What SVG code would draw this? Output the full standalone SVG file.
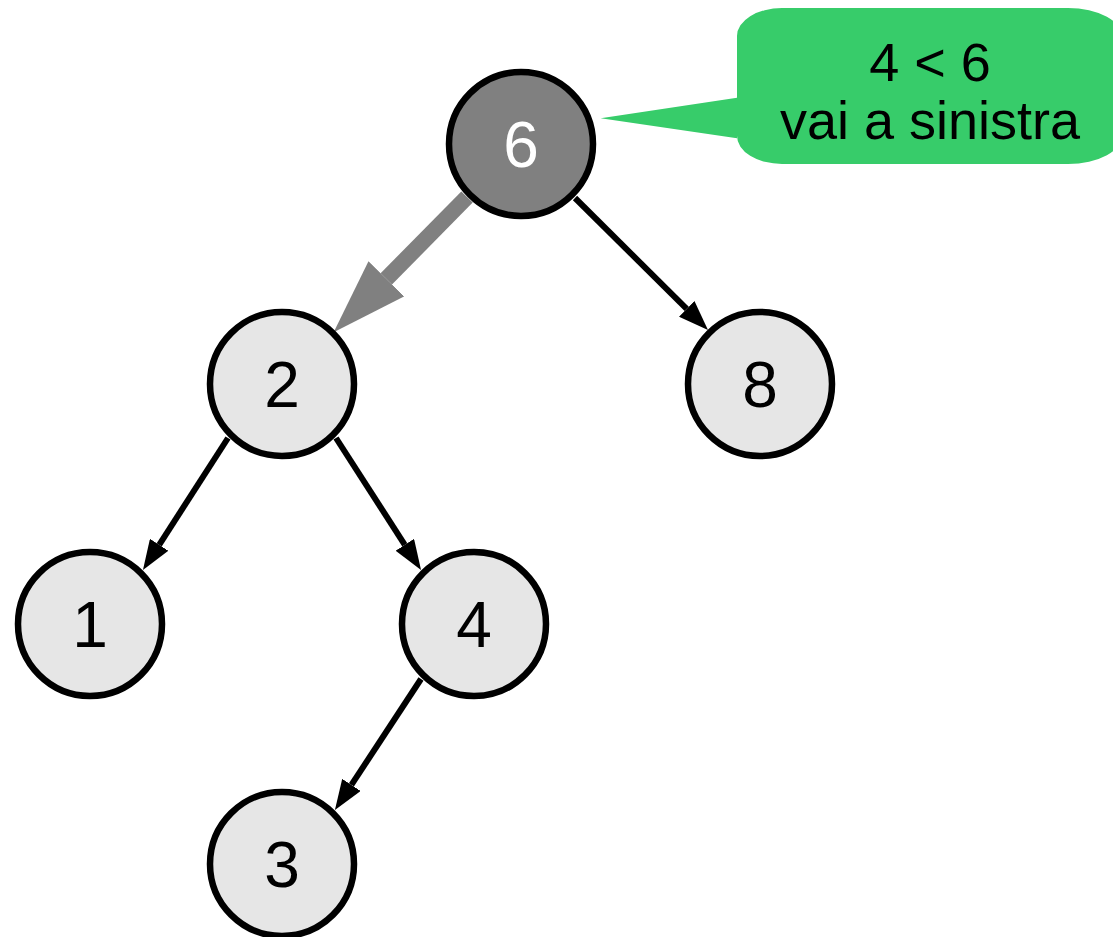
<svg xmlns="http://www.w3.org/2000/svg" width="1113" height="937" viewBox="0 0 1113 937">
  <style>
    .node circle { fill: #e6e6e6; stroke: #000; stroke-width: 6.5; }
    .node text { font-family: "Liberation Sans", Arial, sans-serif; font-size: 64px; fill: #000; text-anchor: middle; }
    #n6 circle { fill: #808080; }
    #n6 text { fill: #fff; }
    .edge { stroke: #000; stroke-width: 6; fill: none; marker-end: url(#arrow); }
    .edge-hl { stroke: #808080; stroke-width: 16; fill: none; marker-end: url(#arrow-hl); }
    .note-text { font-family: "Liberation Sans", Arial, sans-serif; font-size: 54px; fill: #000; text-anchor: middle; }
  </style>
  <defs>
    <marker id="arrow" markerUnits="userSpaceOnUse" viewBox="0 -11 30 22" refX="0" refY="0" markerWidth="30" markerHeight="22" orient="auto">
      <path d="M0,-11 L30,0 L0,11 Z" fill="#000"/>
    </marker>
    <marker id="arrow-hl" markerUnits="userSpaceOnUse" viewBox="0 -25 75 50" refX="0" refY="0" markerWidth="75" markerHeight="50" orient="auto">
      <path d="M0,-25 L75,0 L0,25 Z" fill="#808080"/>
    </marker>
  </defs>

  <!-- connectors -->
  <g id="edges">
    <line class="edge-hl" x1="467" y1="197" x2="386.3" y2="278.9"/>
    <line class="edge" x1="575" y1="198" x2="686.7" y2="308.9"/>
    <line class="edge" x1="228" y1="438" x2="159.2" y2="544.8"/>
    <line class="edge" x1="336" y1="438" x2="404.8" y2="544.8"/>
    <line class="edge" x1="421" y1="679" x2="351.4" y2="784.9"/>
  </g>

  <!-- speech bubble -->
  <g id="note">
    <path d="M782,8 L1068,8 A55,30 0 0 1 1123,38 L1123,134 A55,30 0 0 1 1068,164 L782,164 A45,28 0 0 1 737,136 L737,138.3 L600.7,118.3 L737,97.7 L737,36 A45,28 0 0 1 782,8 Z" fill="#37cc6a"/>
    <text class="note-text" x="930" y="81">4 &lt; 6</text>
    <text class="note-text" x="930" y="139">vai a sinistra</text>
  </g>

  <!-- tree nodes -->
  <g id="n6" class="node"><circle cx="521" cy="144" r="72"/><text x="521" y="167">6</text></g>
  <g id="n2" class="node"><circle cx="282" cy="384" r="72"/><text x="282" y="407">2</text></g>
  <g id="n8" class="node"><circle cx="760" cy="384" r="72"/><text x="760" y="407">8</text></g>
  <g id="n1" class="node"><circle cx="90" cy="624" r="72"/><text x="90" y="647">1</text></g>
  <g id="n4" class="node"><circle cx="474" cy="624" r="72"/><text x="474" y="647">4</text></g>
  <g id="n3" class="node"><circle cx="282" cy="864" r="72"/><text x="282" y="887">3</text></g>
</svg>
